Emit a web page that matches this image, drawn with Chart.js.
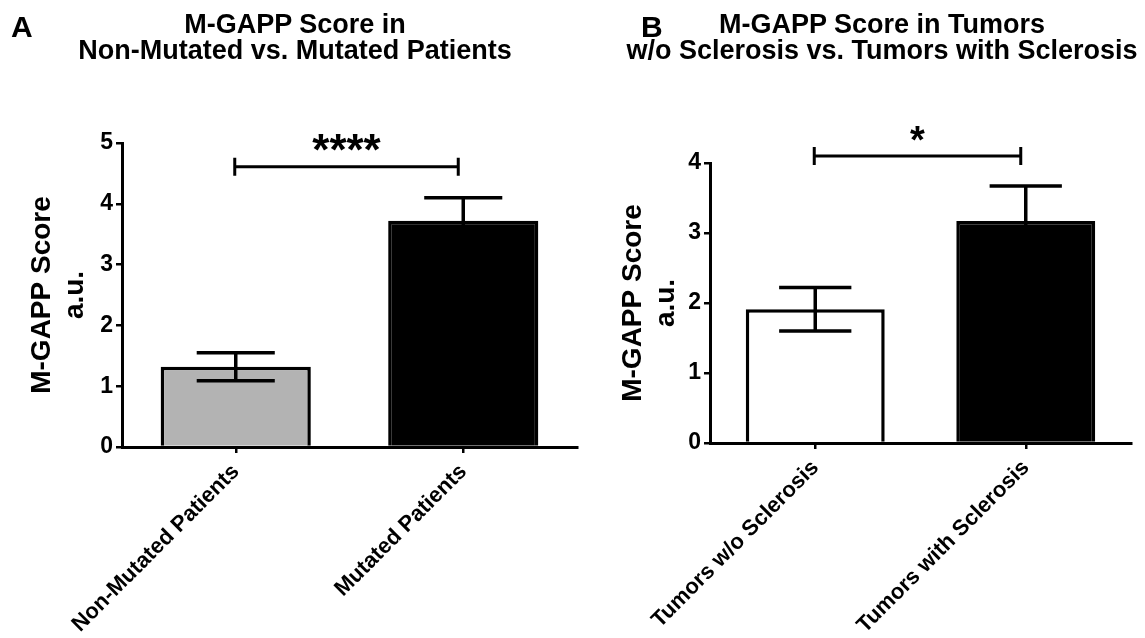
<!DOCTYPE html>
<html>
<head>
<meta charset="utf-8">
<script src="https://cdn.jsdelivr.net/npm/chart.js@4.4.1/dist/chart.umd.min.js"></script>
<style>
  html, body { margin: 0; padding: 0; background: #fff; }
  body { width: 1145px; height: 638px; position: relative; overflow: hidden; font-family: "Liberation Sans", Arial, sans-serif; }
  .panel { position: absolute; top: 0; height: 638px; }
  .title { position: absolute; text-align: center; font-weight: bold; font-size: 27px; line-height: 26px; color: #000; white-space: nowrap; }
  .letter { position: absolute; font-weight: bold; font-size: 30px; line-height: 30px; color: #000; }
</style>
</head>
<body>
<div class="panel" style="left:0; width:590px;"><canvas id="chartA"></canvas></div>
<div class="panel" style="left:590px; width:555px;"><canvas id="chartB"></canvas></div>

<div class="letter" style="left:11px; top:12px;">A</div>
<div class="title" style="left:-5px; top:11px; width:600px;">M-GAPP Score in<br>Non-Mutated vs. Mutated Patients</div>
<div class="letter" style="left:641px; top:12px;">B</div>
<div class="title" style="left:582px; top:11px; width:600px;">M-GAPP Score in Tumors<br>w/o Sclerosis vs. Tumors with Sclerosis</div>

<script>
// ---- Data ----
const categoriesA = ["Non-Mutated Patients", "Mutated Patients"];
const meansA = [1.32, 3.72];
const errorsA = [0.23, 0.38];
const colorsA = ["#b3b3b3", "#000000"];
const ticksA = [0, 1, 2, 3, 4, 5];
const sigA = { from: 0, to: 1, y: 4.61, label: "****" };

const categoriesB = ["Tumors w/o Sclerosis", "Tumors with Sclerosis"];
const meansB = [1.91, 3.17];
const errorsB = [0.31, 0.50];
const colorsB = ["#ffffff", "#000000"];
const ticksB = [0, 1, 2, 3, 4];
const sigB = { from: 0, to: 1, y: 4.10, label: "*" };

const yTitle = ["M-GAPP Score", "a.u."];
const FONT = "'Liberation Sans', Arial, sans-serif";

// ---- Plugin: error bars and significance bracket ----
const annotPlugin = {
  id: "annot",
  afterDatasetsDraw(chart, args, opts) {
    const { ctx, scales: { x, y } } = chart;
    const meta = chart.getDatasetMeta(0);
    ctx.save();
    ctx.strokeStyle = "#000";
    ctx.lineCap = "butt";
    // error bars
    ctx.lineWidth = 3.5;
    opts.errors.forEach((e, i) => {
      const bar = meta.data[i];
      const cx = bar.x;
      const half = bar.width * 0.26;
      const m = opts.means[i];
      const yTop = y.getPixelForValue(m + e);
      const yBot = y.getPixelForValue(m - e);
      ctx.beginPath();
      ctx.moveTo(cx, yTop); ctx.lineTo(cx, yBot);
      ctx.moveTo(cx - half, yTop); ctx.lineTo(cx + half, yTop);
      ctx.moveTo(cx - half, yBot); ctx.lineTo(cx + half, yBot);
      ctx.stroke();
    });
    // significance bracket
    const s = opts.sig;
    const x1 = x.getPixelForValue(s.from) - 1;
    const x2 = x.getPixelForValue(s.to) - 5;
    const yy = y.getPixelForValue(s.y);
    ctx.lineWidth = 3;
    ctx.beginPath();
    ctx.moveTo(x1, yy); ctx.lineTo(x2, yy);
    ctx.moveTo(x1, yy - 9); ctx.lineTo(x1, yy + 9);
    ctx.moveTo(x2, yy - 9); ctx.lineTo(x2, yy + 9);
    ctx.stroke();
    ctx.fillStyle = "#000";
    ctx.font = "bold " + opts.starSize + "px " + FONT;
    ctx.textAlign = "center";
    ctx.textBaseline = "alphabetic";
    ctx.fillText(s.label, (x1 + x2) / 2, yy + opts.starDy);
    ctx.restore();
  }
};

function makeChart(id, cats, means, errors, colors, ticks, sig, geo) {
  const yMax = ticks[ticks.length - 1];
  return new Chart(document.getElementById(id), {
    type: "bar",
    data: {
      labels: cats,
      datasets: [{
        data: means,
        backgroundColor: colors,
        borderColor: "#000",
        borderWidth: 3.5,
        borderSkipped: "start",
        categoryPercentage: 1.0,
        barPercentage: 0.66
      }]
    },
    plugins: [annotPlugin],
    options: {
      responsive: true,
      maintainAspectRatio: false,
      animation: false,
      devicePixelRatio: 1,
      layout: { padding: { top: geo.top, right: geo.right, left: 0, bottom: 0 } },
      plugins: {
        legend: { display: false },
        tooltip: { enabled: false },
        title: { display: false },
        annot: { errors: errors, means: means, sig: sig, starSize: geo.starSize, starDy: geo.starDy }
      },
      scales: {
        x: {
          type: "category",
          offset: true,
          grid: { display: true, offset: false, drawOnChartArea: false, drawTicks: true, tickLength: 6, color: "#000", lineWidth: 2.5 },
          border: { display: true, color: "#000", width: 3 },
          ticks: { color: "#000", font: { family: FONT, size: 22, weight: "bold" }, minRotation: 45, maxRotation: 45, padding: 6, autoSkip: false },
          afterFit(scale) { scale.height = geo.xHeight; }
        },
        y: {
          min: 0,
          max: yMax,
          afterBuildTicks(scale) { scale.ticks = ticks.map(v => ({ value: v })); },
          grid: { display: true, drawOnChartArea: false, drawTicks: true, tickLength: 6, color: "#000", lineWidth: 2.5 },
          border: { display: true, color: "#000", width: 3 },
          ticks: { color: "#000", font: { family: FONT, size: 23, weight: "bold" }, padding: 3 },
          title: {
            display: true,
            text: yTitle,
            color: "#000",
            font: { family: FONT, size: 28, weight: "bold", lineHeight: 1.2 },
            padding: { top: geo.titlePad, bottom: 0 }
          },
          afterFit(scale) { scale.width = geo.yWidth; }
        }
      }
    }
  });
}

makeChart("chartA", categoriesA, meansA, errorsA, colorsA, ticksA, sigA,
  { top: 143, right: 13, xHeight: 191, yWidth: 122, titlePad: 25, starSize: 44, starDy: -2 });
makeChart("chartB", categoriesB, meansB, errorsB, colorsB, ticksB, sigB,
  { top: 163, right: 14, xHeight: 195, yWidth: 120, titlePad: 26, starSize: 38, starDy: -3 });
</script>
</body>
</html>
